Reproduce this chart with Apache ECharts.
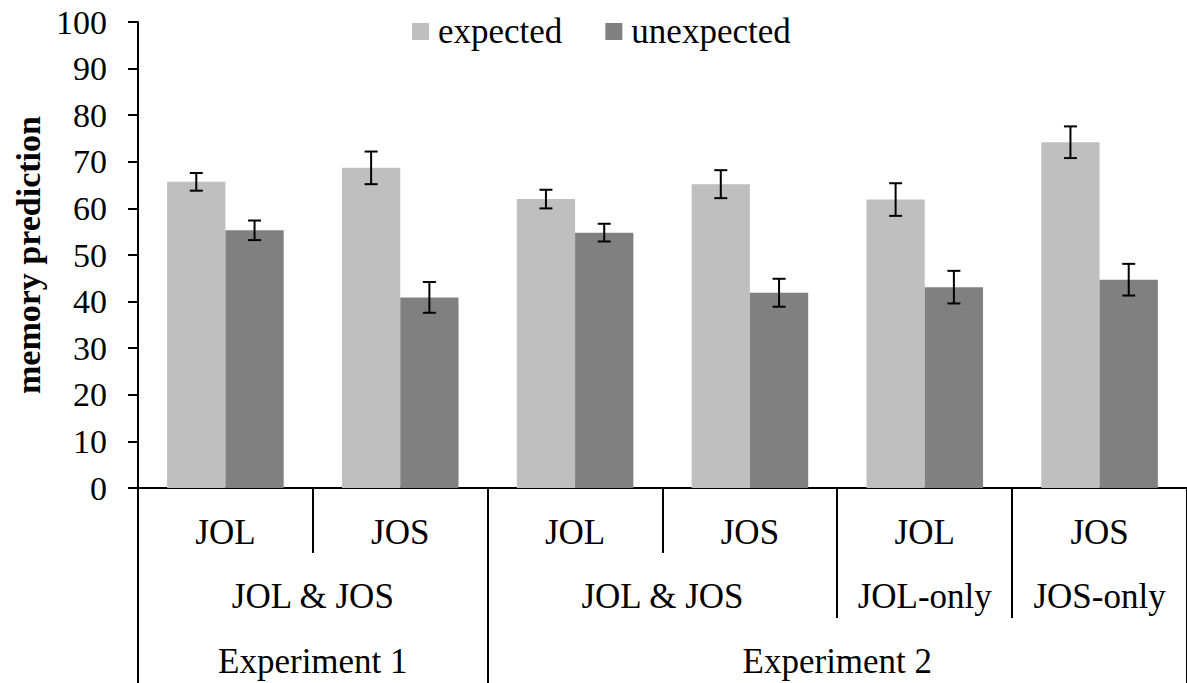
<!DOCTYPE html>
<html>
<head>
<meta charset="utf-8">
<script src="https://cdn.jsdelivr.net/npm/echarts@6/dist/echarts.min.js"></script>
<style>
html,body{margin:0;padding:0;background:#fff;}
#chart{width:1187px;height:683px;}
</style>
</head>
<body>
<div id="chart"></div>
<script>
// ---- data ----
const categories = ['JOL', 'JOS', 'JOL', 'JOS', 'JOL', 'JOS'];
const taskLabels = ['JOL & JOS', 'JOL & JOS', 'JOL-only', 'JOS-only'];
const taskSpans = [2, 2, 1, 1];
const experimentLabels = ['Experiment 1', 'Experiment 2'];
const experimentSpans = [2, 4];
const seriesNames = ['expected', 'unexpected'];
const expected = [65.7, 68.7, 62.0, 65.2, 61.9, 74.2];
const unexpected = [55.3, 40.9, 54.8, 41.9, 43.1, 44.7];
const expectedErr = [1.9, 3.5, 2.0, 3.0, 3.5, 3.4];
const unexpectedErr = [2.1, 3.3, 1.9, 3.0, 3.5, 3.4];
const yTitle = 'memory prediction';

const FONT = "'Liberation Serif', 'Times New Roman', serif";
const colors = ['#BFBFBF', '#808080'];

const chart = echarts.init(document.getElementById('chart'), null, {renderer: 'svg'});

function errorSeries(name, vals, errs, side) {
  return {
    type: 'custom',
    name: name,
    silent: true,
    z: 10,
    data: vals.map((v, i) => [i, v, errs[i]]),
    renderItem: function (params, api) {
      const i = api.value(0), v = api.value(1), e = api.value(2);
      const band = api.size([1, 0])[0];
      const off = side * band / 6;
      const top = api.coord([i, v + e]);
      const bot = api.coord([i, v - e]);
      const x = top[0] + off;
      const cap = 6.5;
      const st = {stroke: '#000', lineWidth: 2};
      return {
        type: 'group',
        children: [
          {type: 'line', shape: {x1: x, y1: top[1], x2: x, y2: bot[1]}, style: st},
          {type: 'line', shape: {x1: x - cap, y1: top[1], x2: x + cap, y2: top[1]}, style: st},
          {type: 'line', shape: {x1: x - cap, y1: bot[1], x2: x + cap, y2: bot[1]}, style: st}
        ]
      };
    }
  };
}

const option = {
  animation: false,
  backgroundColor: '#fff',
  grid: {left: 138, right: -7, top: 22, bottom: 195, containLabel: false},
  legend: {
    data: seriesNames,
    top: 14,
    left: 412,
    padding: 0,
    itemWidth: 17,
    itemHeight: 17,
    itemGap: 43,
    icon: 'rect',
    textStyle: {fontFamily: FONT, fontSize: 35, color: '#000', padding: [0, 0, 8, 4]}
  },
  xAxis: {
    type: 'category',
    data: categories,
    axisLine: {lineStyle: {color: '#000', width: 2}},
    axisTick: {show: false},
    axisLabel: {fontFamily: FONT, fontSize: 35, color: '#000', margin: 27, lineHeight: 35}
  },
  yAxis: {
    type: 'value',
    min: 0,
    max: 100,
    interval: 10,
    name: yTitle,
    nameLocation: 'middle',
    nameRotate: 90,
    nameGap: 93,
    nameTextStyle: {fontFamily: FONT, fontSize: 34, fontWeight: 'bold', color: '#000'},
    splitLine: {show: false},
    axisLine: {show: true, lineStyle: {color: '#000', width: 2}},
    axisTick: {show: true, length: 10, lineStyle: {color: '#000', width: 2}},
    axisLabel: {fontFamily: FONT, fontSize: 34, color: '#000', margin: 31}
  },
  series: [
    {name: seriesNames[0], type: 'bar', data: expected, barGap: '0%', barCategoryGap: '33.33%',
     itemStyle: {color: colors[0]}},
    {name: seriesNames[1], type: 'bar', data: unexpected, barGap: '0%', barCategoryGap: '33.33%',
     itemStyle: {color: colors[1]}},
    errorSeries('expected error', expected, expectedErr, -1),
    errorSeries('unexpected error', unexpected, unexpectedErr, 1)
  ]
};
chart.setOption(option);

// ---- hierarchical category labels and separators, positioned from the x axis scale ----
const c0 = chart.convertToPixel({xAxisIndex: 0}, 0);
const c1 = chart.convertToPixel({xAxisIndex: 0}, 1);
const band = c1 - c0;
const x0 = c0 - band / 2;
const axisY = chart.convertToPixel({yAxisIndex: 0}, 0);
const row1Bottom = axisY + 65, row2Bottom = axisY + 130, row3Bottom = 683;
const row2Y = axisY + 108, row3Y = axisY + 173;

function cumul(spans) { const out = [0]; spans.forEach(s => out.push(out[out.length - 1] + s)); return out; }
const taskBounds = cumul(taskSpans);
const expBounds = cumul(experimentSpans);

const elements = [];
const lineStyle = {stroke: '#000', lineWidth: 2};
for (let k = 0; k <= categories.length; k++) {
  let yEnd = row1Bottom;
  if (expBounds.indexOf(k) >= 0) yEnd = row3Bottom;
  else if (taskBounds.indexOf(k) >= 0) yEnd = row2Bottom;
  const x = Math.round(x0 + k * band);
  elements.push({type: 'line', shape: {x1: x, y1: axisY, x2: x, y2: yEnd}, style: lineStyle, silent: true});
}
function addLabels(labels, bounds, y) {
  labels.forEach((t, i) => {
    const cx = x0 + (bounds[i] + bounds[i + 1]) / 2 * band;
    elements.push({type: 'text', x: cx, y: y, silent: true,
      style: {text: t, fontFamily: FONT, fontSize: 35, fill: '#000', align: 'center', verticalAlign: 'middle'}});
  });
}
addLabels(taskLabels, taskBounds, row2Y);
addLabels(experimentLabels, expBounds, row3Y);
chart.setOption({graphic: {elements: elements}});
</script>
</body>
</html>
